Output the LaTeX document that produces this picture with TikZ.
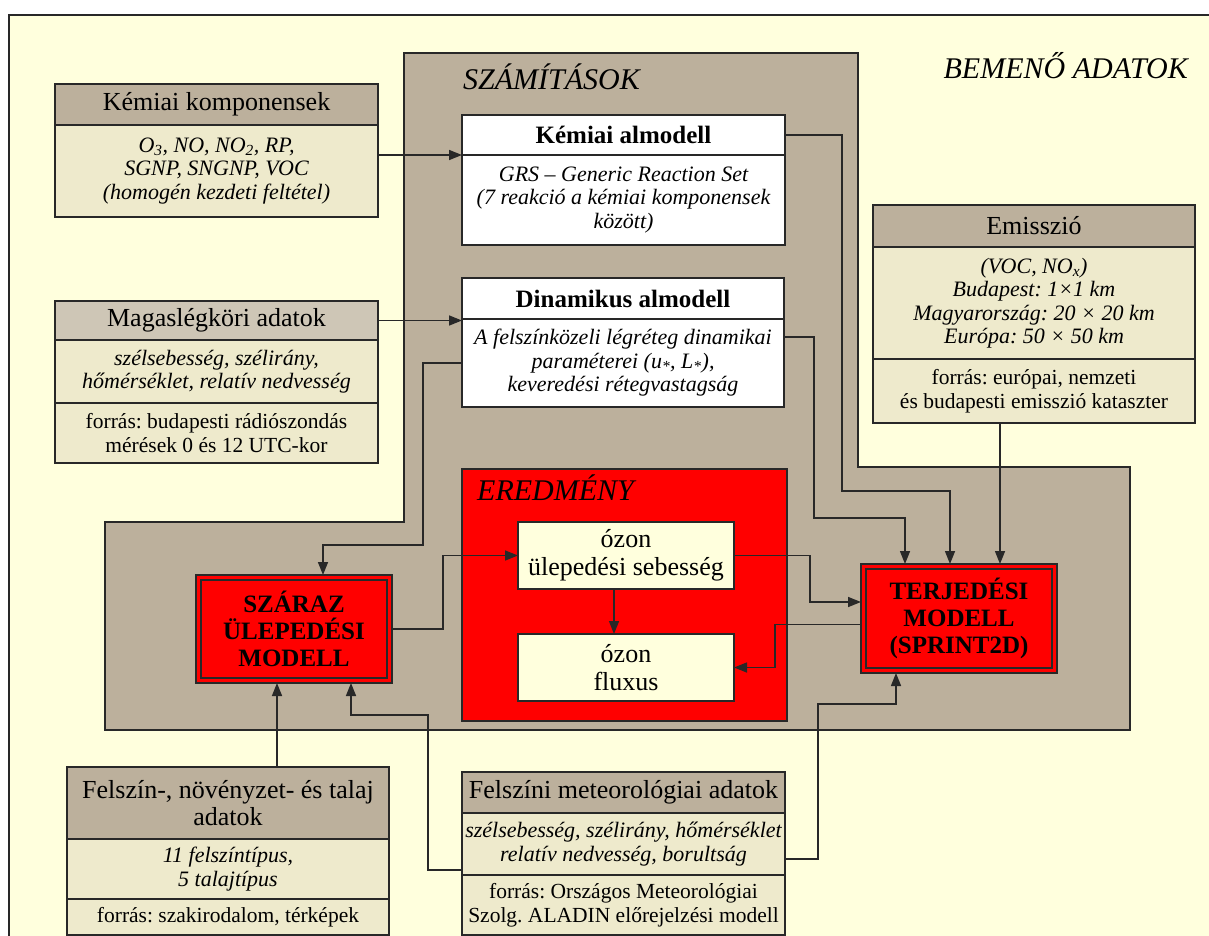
\documentclass[tikz,border=0pt]{standalone}
\usepackage{fontspec}
\setmainfont{Liberation Serif}
\usetikzlibrary{positioning,arrows.meta}
\frenchspacing

\definecolor{bgcream}{RGB}{255,255,221}
\definecolor{calcbrown}{RGB}{188,176,156}
\definecolor{hdrlight}{RGB}{206,198,182}
\definecolor{bodybeige}{RGB}{238,234,204}
\definecolor{linegray}{RGB}{40,40,40}

\newcommand\hdrfont{\fontsize{26}{27}\selectfont}
\newcommand\bodyfont{\fontsize{22}{23.5}\selectfont\itshape}
\newcommand\srcfont{\fontsize{21.5}{24}\selectfont}
\newcommand\titlefont{\fontsize{25}{27}\selectfont\bfseries}
\newcommand\areafont{\fontsize{30}{32}\selectfont\itshape}

\begin{document}
\begin{tikzpicture}[
    x=1pt, y=-1pt,
    box/.style={rectangle, draw=linegray, line width=1.5pt, inner sep=2pt, outer sep=0pt, align=center},
    hdr/.style={box, fill=calcbrown, font=\hdrfont},
    bdy/.style={box, fill=bodybeige, font=\bodyfont},
    src/.style={box, fill=bodybeige, font=\srcfont},
    subhdr/.style={box, fill=white, font=\titlefont},
    subbdy/.style={box, fill=white, font=\bodyfont},
    res/.style={box, fill=bgcream, font=\fontsize{26}{28}\selectfont, minimum width=216, minimum height=67},
    mdl/.style={box, fill=red, font=\titlefont, minimum width=196,
        path picture={\draw[linegray, line width=1.2pt]
            ([shift={(5pt,-5pt)}]path picture bounding box.north west) rectangle
            ([shift={(-5pt,5pt)}]path picture bounding box.south east);}},
    area/.style={font=\areafont, inner sep=0pt},
    arr/.style={draw=linegray, line width=1.5pt, -{Triangle[length=13pt,width=10pt]}}
]
    \useasboundingbox (0,0) rectangle (1209,936);
    \clip (0,0) rectangle (1209,936);
    \fill[white] (0,0) rectangle (1209,936);
    \filldraw[fill=bgcream, draw=linegray, line width=1.5pt] (9,15) rectangle (1230,960);

    % calculation area
    \filldraw[fill=calcbrown, draw=linegray, line width=1.5pt]
        (404,53) -- (858,53) -- (858,467) -- (1130,467) -- (1130,730)
        -- (105,730) -- (105,522) -- (404,522) -- cycle;
    \node[box, fill=red, minimum width=325, minimum height=252] (eredm) at (624.5,595) {};

    \node[area, anchor=base west] (szamit) at (463,90) {SZÁMÍTÁSOK};
    \node[area, anchor=base east] (bemeno) at (1188,79) {BEMENŐ ADATOK};
    \node[area, anchor=base west] (eredmtxt) at (477,500) {EREDMÉNY};

    % input data
    \node[hdr, minimum width=323, minimum height=41] (kkhead) at (216.5,104.5) {Kémiai komponensek};
    \node[bdy, minimum width=323, minimum height=92, below=0pt of kkhead] (kkbody)
        {O\textsubscript{3}, NO, NO\textsubscript{2}, RP,\\SGNP, SNGNP, VOC\\(homogén kezdeti feltétel)};

    \node[hdr, fill=hdrlight, minimum width=323, minimum height=39] (mghead) at (216.5,320.5) {Magaslégköri adatok};
    \node[bdy, minimum width=323, minimum height=63, below=0pt of mghead] (mgbody)
        {szélsebesség, szélirány,\\hőmérséklet, relatív nedvesség};
    \node[src, minimum width=323, minimum height=60, below=0pt of mgbody] (mgsrc)
        {forrás: budapesti rádiószondás\\mérések 0 és 12 UTC-kor};

    \node[hdr, minimum width=322, minimum height=42] (emhead) at (1034,226) {Emisszió};
    \node[bdy, minimum width=322, minimum height=112, below=0pt of emhead] (embody)
        {(VOC, NO\textsubscript{x})\\Budapest: 1×1 km\\Magyarország: 20 × 20 km\\Európa: 50 × 50 km};
    \node[src, minimum width=322, minimum height=64, below=0pt of embody] (emsrc)
        {forrás: európai, nemzeti\\és budapesti emisszió kataszter};

    \node[hdr, minimum width=322, minimum height=72] (fzhead) at (228,803) {Felszín-, növényzet- és talaj\\adatok};
    \node[bdy, minimum width=322, minimum height=60, below=0pt of fzhead] (fzbody)
        {11 felszíntípus,\\5 talajtípus};
    \node[src, minimum width=322, minimum height=36, below=0pt of fzbody] (fzsrc)
        {forrás: szakirodalom, térképek};

    \node[hdr, minimum width=323, minimum height=41] (fmhead) at (623.5,792.5) {Felszíni meteorológiai adatok};
    \node[bdy, minimum width=323, minimum height=62, below=0pt of fmhead] (fmbody)
        {szélsebesség, szélirány, hőmérséklet\\relatív nedvesség, borultság};
    \node[src, minimum width=323, minimum height=60, below=0pt of fmbody] (fmsrc)
        {forrás: Országos Meteorológiai\\Szolg. ALADIN előrejelzési modell};

    % submodels
    \node[subhdr, minimum width=323, minimum height=40] (kahead) at (623.5,135) {Kémiai almodell};
    \node[subbdy, minimum width=323, minimum height=90, below=0pt of kahead] (kabody)
        {GRS – Generic Reaction Set\\(7 reakció a kémiai komponensek\\között)};
    \node[subhdr, minimum width=322, minimum height=41] (dahead) at (623,298.5) {Dinamikus almodell};
    \node[subbdy, minimum width=322, minimum height=88, below=0pt of dahead] (dabody)
        {A felszínközeli légréteg dinamikai\\paraméterei (u\textsubscript{*}, L\textsubscript{*}),\\keveredési rétegvastagság};

    % models and results
    \node[mdl, minimum height=108] (szaraz) at (294,629) {SZÁRAZ\\ÜLEPEDÉSI\\MODELL};
    \node[mdl, minimum height=109] (terj) at (959,618.5) {TERJEDÉSI\\MODELL\\(SPRINT2D)};
    \node[res] (ozseb) at (626,555.5) {ózon\\ülepedési sebesség};
    \node[res] (ozflux) at (626,667.5) {ózon\\fluxus};

    % connectors
    \draw[arr] (kkbody.east |- kahead.south) -- (kahead.south west);
    \draw[arr] (mghead.east) -- (mghead.east -| dahead.west);
    \draw[arr] (kahead.east) -- (842,135) -- (842,491) -| ([xshift=-9pt]terj.north);
    \draw[arr] ([yshift=26pt]dabody.east) -- (814,337) -- (814,518) -| ([xshift=-54pt]terj.north);
    \draw[arr] ([xshift=-34pt]emsrc.south) -- ([xshift=-34pt]emsrc.south |- terj.north);
    \draw[arr] (dabody.west) -- (423,363) -- (423,545) -| ([xshift=29pt]szaraz.north);
    \draw[arr] (szaraz.east) -- (443,629) |- (ozseb.west);
    \draw[arr] ([xshift=-12pt]ozseb.south) -- ([xshift=-12pt]ozflux.north);
    \draw[arr] (ozseb.east) -| (810,602) -- ([yshift=16.5pt]terj.west);
    \draw[arr] ([yshift=-6pt]terj.west) -| (775,667.5) -- (ozflux.east);
    \draw[arr] ([xshift=-17pt]szaraz.south |- fzhead.north) -- ([xshift=-17pt]szaraz.south);
    \draw[arr] ([yshift=-26pt]fmbody.west) -- (428,870) -- (428,715) -| ([xshift=57pt]szaraz.south);
    \draw[arr] ([yshift=-15pt]fmbody.east) -- (818,859) -- (818,704) -| ([xshift=-63pt]terj.south);
\end{tikzpicture}
\end{document}
